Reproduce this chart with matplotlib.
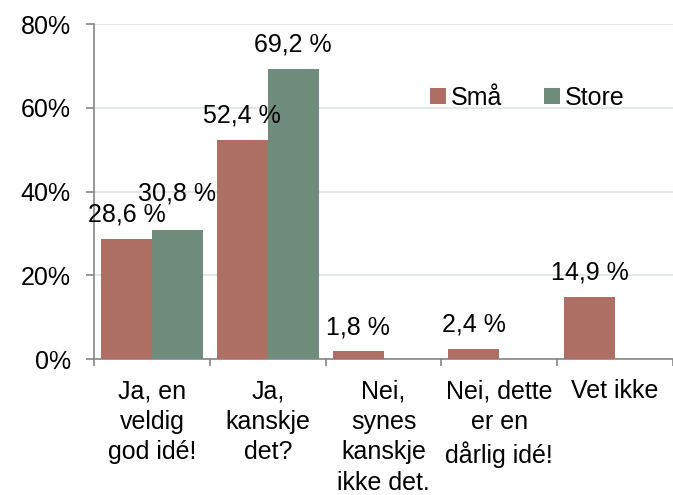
import matplotlib
matplotlib.use("Agg")
import matplotlib.pyplot as plt
import numpy as np

plt.rcParams['font.family'] = ['Liberation Sans', 'DejaVu Sans']

categories = ["Ja, en\nveldig\ngod idé!", "Ja,\nkanskje\ndet?", "Nei,\nsynes\nkanskje\nikke det.",
              "Nei, dette\ner en\ndårlig idé!", "Vet ikke"]
sma = [28.6, 52.4, 1.8, 2.4, 14.9]
store = [30.8, 69.2, None, None, None]
series_names = ["Små", "Store"]
yticks = [0, 20, 40, 60, 80]

col_sma = "#AD6F64"
col_store = "#6F8C7D"

fig = plt.figure(figsize=(6.73, 4.95), dpi=100)
ax = fig.add_axes([0.1397, 0.2747, 0.8603, 0.6768])

x = np.arange(len(categories))
w = 0.44

def fmt(v):
    return f"{v:.1f} %".replace(".", ",")

font = 18
base_off = 12.5
# extra upward shift (points) for labels that would collide
extra_sma = [0, 0, 0, 0, 0]
extra_store = [9, 0, 0, 0, 0]

for i, v in enumerate(sma):
    ax.bar(x[i] - w / 2, v, w, color=col_sma, zorder=3, label=series_names[0] if i == 0 else None)
    ax.annotate(fmt(v), (x[i] - w / 2, v), xytext=(0, base_off + extra_sma[i]), textcoords="offset points",
                ha="center", va="baseline", fontsize=font, zorder=4)
for i, v in enumerate(store):
    if v is None:
        continue
    ax.bar(x[i] + w / 2, v, w, color=col_store, zorder=3, label=series_names[1] if i == 0 else None)
    ax.annotate(fmt(v), (x[i] + w / 2, v), xytext=(0, base_off + extra_store[i]), textcoords="offset points",
                ha="center", va="baseline", fontsize=font, zorder=4)

ax.set_xlim(-0.5, len(categories) - 0.5)
ax.set_ylim(0, 80)
ax.set_yticks(yticks)
ax.set_yticklabels([f"{t}%" for t in yticks], fontsize=font)
ax.set_xticks(x)
ax.set_xticklabels(categories, fontsize=font, linespacing=1.34)
ax.set_xticks(np.arange(len(categories) + 1) - 0.5, minor=True)
ax.tick_params(axis="x", which="major", length=0, pad=14.5)
ax.tick_params(axis="x", which="minor", length=5, color="#868686", width=1.2, direction="out")
ax.tick_params(axis="y", length=5.8, color="#868686", width=1.2, pad=11)

ax.grid(axis="y", color="#DDE3E3", linewidth=1.2, zorder=0)
for s in ["top", "right"]:
    ax.spines[s].set_visible(False)
for s in ["left", "bottom"]:
    ax.spines[s].set_color("#868686")
    ax.spines[s].set_linewidth(1.2)

ax.legend(loc="center", bbox_to_anchor=(0.748, 0.78), ncol=2, frameon=False, fontsize=font,
          handlelength=0.65, handleheight=0.65, handletextpad=0.2, columnspacing=1.65)

fig.savefig("out.png", dpi=100)
